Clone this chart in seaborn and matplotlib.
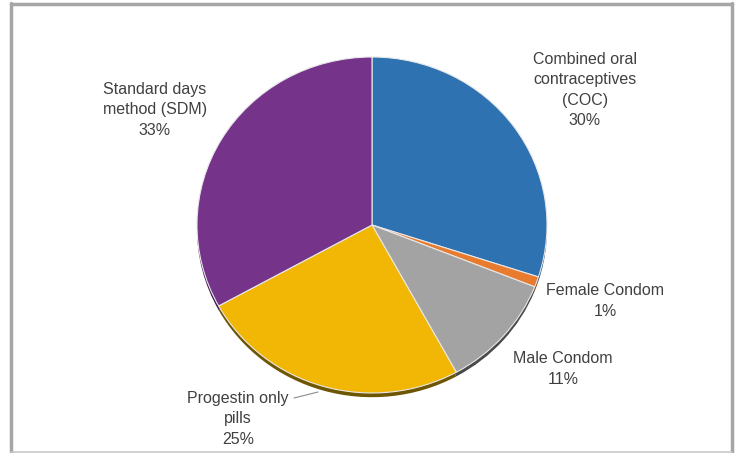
import matplotlib
matplotlib.use("Agg")
import matplotlib.pyplot as plt
import seaborn as sns
from matplotlib.lines import Line2D

sns.set_theme(style="white")
plt.rcParams['font.family'] = ['Liberation Sans', 'DejaVu Sans']

categories = ["Combined oral\ncontraceptives\n(COC)", "Female Condom", "Male Condom",
              "Progestin only\npills", "Standard days\nmethod (SDM)"]
values = [30, 1, 11, 25, 33]
pct_labels = ["30%", "1%", "11%", "25%", "33%"]
colors = ["#2E72B2", "#E97B2F", "#A3A3A3", "#F2B705", "#75338A"]
shadow_colors = ["#1B4470", "#8A4A1C", "#4A4A4A", "#6E5500", "#40184D"]

W, H = 738, 453
fig = plt.figure(figsize=(W / 100, H / 100), dpi=100)
ax = fig.add_axes([0, 0, 1, 1])

cx, cy, rx, ry = 372, 225, 175, 168

# shadow pie
ax.pie(values, colors=shadow_colors, startangle=90, counterclock=False,
       center=(0, -0.025), wedgeprops=dict(linewidth=0))
# main pie
ax.pie(values, colors=colors, startangle=90, counterclock=False,
       wedgeprops=dict(linewidth=0.8, edgecolor="#E8E8E8"))

ax.set_aspect('auto')
ax.set_xlim(-cx / rx, (W - cx) / rx)
ax.set_ylim(-(H - cy) / ry, cy / ry)
ax.axis('off')

def px(x, y):
    return (x - cx) / rx, (cy - y) / ry

label_px = [(585, 90), (605, 301), (563, 369), (238, 419), (155, 110)]
for cat, pct, (lx, ly) in zip(categories, pct_labels, label_px):
    x, y = px(lx, ly)
    ax.text(x, y, cat + "\n" + pct, ha="center", va="center",
            fontsize=11.5, color="#404040", linespacing=1.45)

# leader line for Progestin
p1 = px(294, 398)
p2 = px(318, 392)
ax.plot([p1[0], p2[0]], [p1[1], p2[1]], color="#8C8C8C", lw=0.8)

# frame
fig.add_artist(Line2D([11 / W, 11 / W], [0, 1 - 3 / H], transform=fig.transFigure,
                      color="#A6A6A6", lw=2.5))
fig.add_artist(Line2D([732 / W, 732 / W], [0, 1 - 3 / H], transform=fig.transFigure,
                      color="#A6A6A6", lw=2.5))
fig.add_artist(Line2D([11 / W, 732 / W], [1 - 4 / H, 1 - 4 / H], transform=fig.transFigure,
                      color="#A6A6A6", lw=2.5))
fig.add_artist(Line2D([11 / W, 732 / W], [1 - 452 / H, 1 - 452 / H], transform=fig.transFigure,
                      color="#C8C8C8", lw=1.2))

fig.savefig("out.png", dpi=100)
